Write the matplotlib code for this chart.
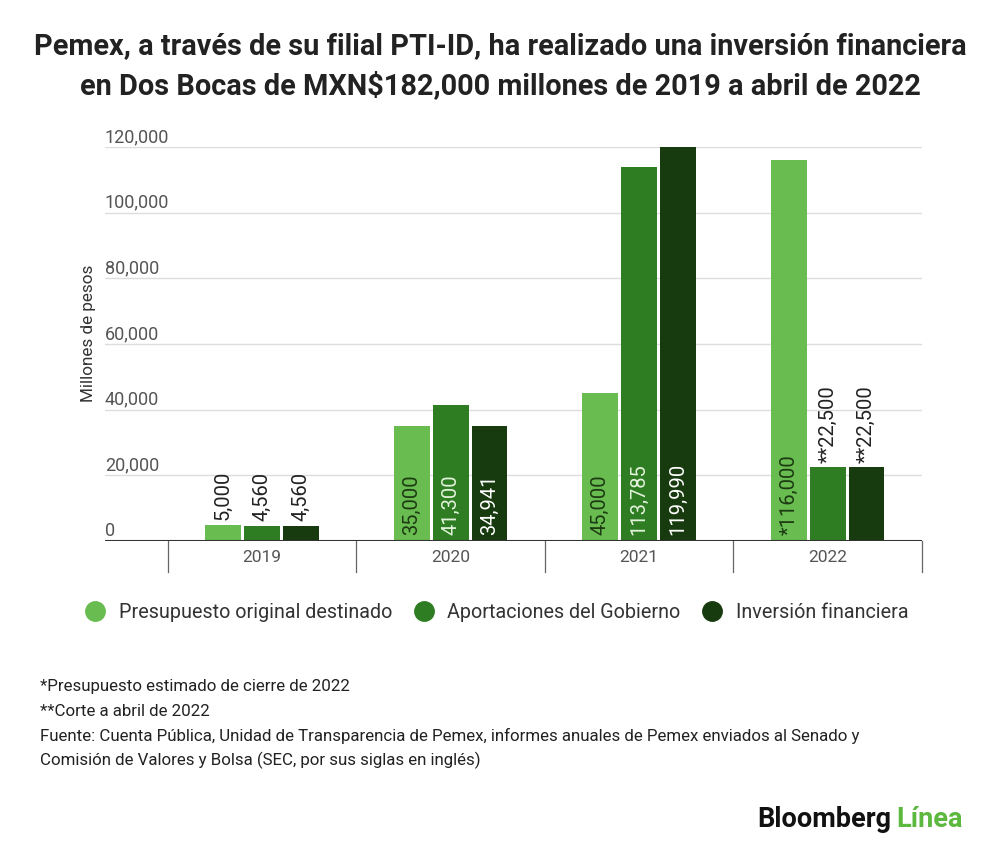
import matplotlib
matplotlib.use("Agg")
import matplotlib.pyplot as plt
from matplotlib.lines import Line2D
import numpy as np

plt.rcParams['font.family'] = ['Roboto', 'DejaVu Sans']

years = ["2019", "2020", "2021", "2022"]
series_names = ["Presupuesto original destinado", "Aportaciones del Gobierno", "Inversión financiera"]
presupuesto = [5000, 35000, 45000, 116000]
aportaciones = [4560, 41300, 113785, 22500]
inversion = [4560, 34941, 119990, 22500]
label_texts = [
    ["5,000", "35,000", "45,000", "*116,000"],
    ["4,560", "41,300", "113,785", "**22,500"],
    ["4,560", "34,941", "119,990", "**22,500"],
]
inside = [
    [False, True, True, True],
    [False, True, True, False],
    [False, True, True, False],
]
colors = ["#68BC50", "#2E7D22", "#183A0F"]
text_in_colors = ["#1C3A12", "#E4F3DC", "#FFFFFF"]
yticks = [0, 20000, 40000, 60000, 80000, 100000, 120000]

W, H = 1000, 853
fig = plt.figure(figsize=(W/100, H/100), dpi=100)
ax = fig.add_axes([105/W, 1-542/H, (922-105)/W, (542-148)/H])
ax.set_xlim(-0.833, 3.5)
ax.set_ylim(0, 120000)

x = np.arange(len(years))
bw = 0.19
step = 0.206
all_series = [presupuesto, aportaciones, inversion]
for i, vals in enumerate(all_series):
    xs = x + (i-1)*step
    ax.bar(xs, vals, width=bw, color=colors[i], zorder=3)
    for j, v in enumerate(vals):
        if inside[i][j]:
            ax.annotate(label_texts[i][j], (xs[j], 0), xytext=(0, 5), textcoords='offset points',
                        rotation=90, ha='center', va='bottom', fontsize=14.5,
                        color=text_in_colors[i], zorder=4)
        else:
            ax.annotate(label_texts[i][j], (xs[j], v), xytext=(0, 4), textcoords='offset points',
                        rotation=90, ha='center', va='bottom', fontsize=14.5,
                        color='#222222', zorder=4)

for s in ax.spines.values():
    s.set_visible(False)
ax.set_yticks(yticks)
ax.yaxis.grid(True, color='#DDDDDD', linewidth=1, zorder=0)
ax.tick_params(axis='y', length=0, labelleft=False)
ax.tick_params(axis='x', length=0, labelbottom=False)
for t in yticks:
    ax.annotate(f"{t:,}", (0, t), xycoords=('axes fraction', 'data'), xytext=(0, 1.5),
                textcoords='offset points', ha='left', va='bottom', fontsize=13, color='#555555')
ax.axhline(0, color='#333333', linewidth=1.5, zorder=5)
for sx in [-0.5, 0.5, 1.5, 2.5, 3.5]:
    ax.plot([sx, sx], [0, -9500], color='#666666', linewidth=0.9, clip_on=False)
for j, yr in enumerate(years):
    ax.text(x[j], -4700, yr, ha='center', va='center', fontsize=12.5, color='#555555')

fig.text(88/W, 1-333/H, "Millones de pesos", rotation=90, ha='center', va='center',
         fontsize=12.3, color='#333333')

fig.text(0.5, 1-46/H, "Pemex, a través de su filial PTI-ID, ha realizado una inversión financiera",
         ha='center', va='center', fontsize=20.8, fontweight='bold', color='#222222')
fig.text(0.5, 1-86/H, "en Dos Bocas de MXN$182,000 millones de 2019 a abril de 2022",
         ha='center', va='center', fontsize=20.8, fontweight='bold', color='#222222')

handles = [Line2D([], [], marker='o', linestyle='', markersize=14, markerfacecolor=c,
                  markeredgecolor=c) for c in colors]
fig.legend(handles, series_names, loc='center', bbox_to_anchor=(0.492, 1-613/H), ncol=3,
           frameon=False, fontsize=14.2, handletextpad=0.2, columnspacing=0.6,
           labelcolor='#333333')

notes = ["*Presupuesto estimado de cierre de 2022",
         "**Corte a abril de 2022",
         "Fuente: Cuenta Pública, Unidad de Transparencia de Pemex, informes anuales de Pemex enviados al Senado y",
         "Comisión de Valores y Bolsa (SEC, por sus siglas en inglés)"]
for k, n in enumerate(notes):
    fig.text(40/W, 1-(687+24.5*k)/H, n, ha='left', va='center', fontsize=12.2, color='#222222')

t1 = fig.text(757/W, 1-820/H, "Bloomberg", ha='left', va='center', fontsize=19.5,
              fontweight='bold', color='#111111')
fig.canvas.draw()
bb = t1.get_window_extent()
fig.text((bb.x1+5)/W, 1-820/H, "Línea", ha='left', va='center', fontsize=19.5,
         fontweight='bold', color='#5DB840')

fig.savefig("out.png", dpi=100)
